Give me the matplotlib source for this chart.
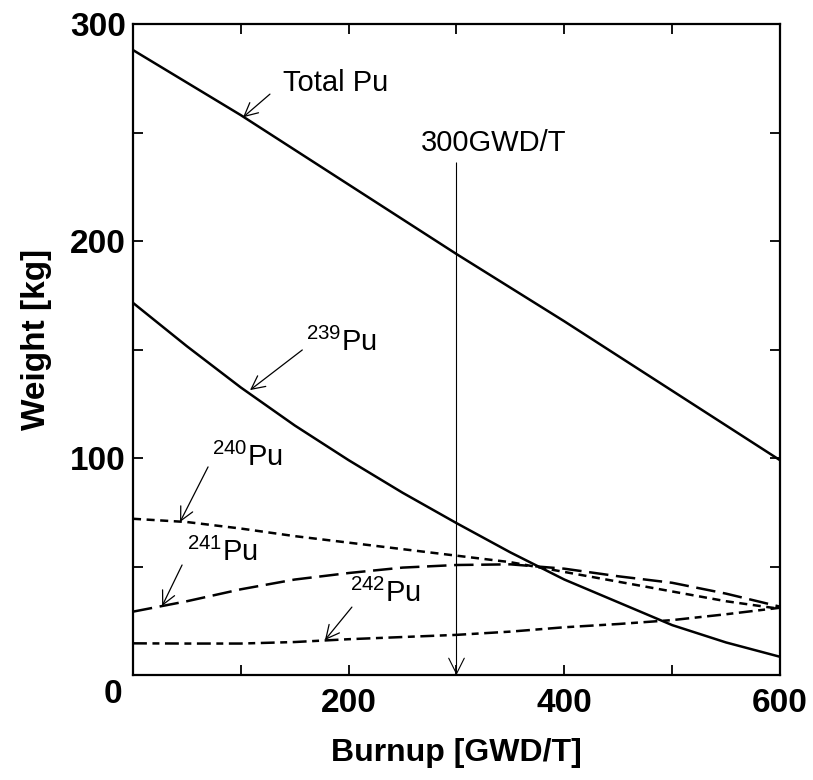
import numpy as np
import matplotlib
matplotlib.use("Agg")
import matplotlib.pyplot as plt
from matplotlib.ticker import MultipleLocator

# =============================================================================
# Data
# =============================================================================
burnup = [0, 50, 100, 150, 200, 250, 300, 350, 400, 450, 500, 550, 600]
pu_total = [288, 273, 258, 242, 226, 210, 194, 178.5, 163, 147, 131, 115, 99]
pu239 = [171.5, 151.5, 132.5, 115, 99, 84, 70, 56.5, 44, 33.5, 23, 15, 8.4]
pu240 = [72, 70.5, 67.5, 64, 61, 58, 55, 52, 47.5, 43, 38.5, 34, 30.5]
pu241 = [29.2, 34, 39.5, 44, 47, 49.5, 50.7, 51, 49, 45.5, 42.5, 37.5, 31.5]
pu242 = [14.6, 14.5, 14.5, 15.2, 16.5, 17.5, 18.5, 20, 22, 23.5, 25.3, 28, 31]

marker_burnup = 300  # GWD/T reference line
marker_top = 236

plt.rcParams['font.family'] = ['Liberation Sans', 'DejaVu Sans']
plt.rcParams['mathtext.fontset'] = 'custom'
plt.rcParams['mathtext.rm'] = 'Liberation Sans'
plt.rcParams['lines.scale_dashes'] = False

fig = plt.figure(figsize=(8.13, 7.80), dpi=100)
ax = fig.add_axes([0.1636, 0.1346, 0.7958, 0.8346])

lw = 1.8
ax.plot(burnup, pu_total, color='black', lw=lw)
ax.plot(burnup, pu239, color='black', lw=lw)
ax.plot(burnup, pu240, color='black', lw=lw, dashes=(5.8, 4.0))
ax.plot(burnup, pu241, color='black', lw=lw, dashes=(14, 5.5))
ax.plot(burnup, pu242, color='black', lw=lw, dashes=(10, 4, 5, 4))

# 300 GWD/T marker with arrow down to the axis
ax.annotate('', xy=(marker_burnup, 0), xytext=(marker_burnup, marker_top),
            arrowprops=dict(arrowstyle='->', color='black', lw=0.8,
                            mutation_scale=28, shrinkA=0, shrinkB=0))
ax.text(334, 245, '300GWD/T', ha='center', va='center', fontsize=21)

arrow_kw = dict(arrowstyle='->', color='black', lw=0.9, mutation_scale=24,
                shrinkA=0, shrinkB=0)
ax.annotate('', xy=(102, 257), xytext=(127, 267.7), arrowprops=arrow_kw)
ax.text(188, 272.8, 'Total Pu', ha='center', va='center', fontsize=21)

ax.annotate('', xy=(108.5, 131.3), xytext=(157, 149.8), arrowprops=arrow_kw)
ax.text(193, 153.5, r'$^{239}$Pu', ha='center', va='center', fontsize=21)

ax.annotate('', xy=(43.6, 70.5), xytext=(69.6, 95.9), arrowprops=arrow_kw)
ax.text(106, 100.5, r'$^{240}$Pu', ha='center', va='center', fontsize=21)

ax.annotate('', xy=(27, 31.8), xytext=(45.5, 50.7), arrowprops=arrow_kw)
ax.text(83, 56.7, r'$^{241}$Pu', ha='center', va='center', fontsize=21)

ax.annotate('', xy=(178, 16.1), xytext=(203, 31.3), arrowprops=arrow_kw)
ax.text(234, 37.8, r'$^{242}$Pu', ha='center', va='center', fontsize=21)

# Axes formatting
ax.set_xlim(0, 600)
ax.set_ylim(0, 300)
ax.xaxis.set_major_locator(MultipleLocator(200))
ax.xaxis.set_minor_locator(MultipleLocator(100))
ax.yaxis.set_major_locator(MultipleLocator(100))
ax.yaxis.set_minor_locator(MultipleLocator(50))
ax.tick_params(which='both', direction='in', top=True, right=True,
               length=7, width=1.3)
ax.tick_params(axis='x', which='major', pad=9, labelsize=24)
ax.tick_params(axis='y', which='major', pad=5, labelsize=24)
ax.set_xticks([0, 200, 400, 600], ['', '200', '400', '600'])
ax.set_yticks([0, 100, 200, 300], ['', '100', '200', '300'])
for lab in ax.get_xticklabels() + ax.get_yticklabels():
    lab.set_fontweight('bold')
# shared origin label sits below-left of the corner
ax.annotate('0', xy=(0, 0), xycoords='axes fraction', xytext=(-20, -19),
            textcoords='offset pixels', ha='center', va='center',
            fontsize=24, fontweight='bold')
for s in ax.spines.values():
    s.set_linewidth(1.6)

ax.set_xlabel('Burnup [GWD/T]', fontsize=23, fontweight='bold', labelpad=14)
ax.set_ylabel('Weight [kg]', fontsize=24, fontweight='bold')
ax.yaxis.set_label_coords(-0.125, 0.515)

fig.savefig('out.png', dpi=100)
